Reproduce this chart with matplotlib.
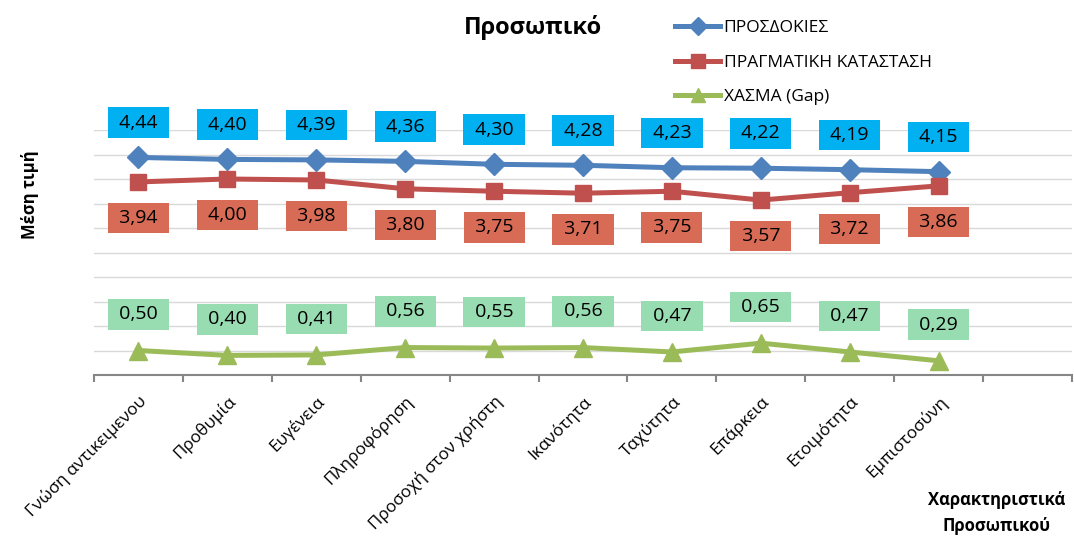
import matplotlib
matplotlib.use('Agg')
import matplotlib.pyplot as plt

plt.rcParams['font.family'] = ['Open Sans', 'DejaVu Sans']

# Κατηγορίες (η τελευταία θέση του άξονα είναι κενή)
katigories = ['Γνώση αντικειμενου', 'Προθυμία', 'Ευγένεια', 'Πληροφόρηση',
              'Προσοχή στον χρήστη', 'Ικανότητα', 'Ταχύτητα', 'Επάρκεια',
              'Ετοιμότητα', 'Εμπιστοσύνη']
prosdokies = [4.44, 4.40, 4.39, 4.36, 4.30, 4.28, 4.23, 4.22, 4.19, 4.15]
pragmatiki = [3.94, 4.00, 3.98, 3.80, 3.75, 3.71, 3.75, 3.57, 3.72, 3.86]
xasma = [0.50, 0.40, 0.41, 0.56, 0.55, 0.56, 0.47, 0.65, 0.47, 0.29]

x = list(range(len(katigories)))

fig = plt.figure(figsize=(10.74, 5.37), dpi=100)
ax = fig.add_axes([94 / 1074, 1 - 375 / 537, 978 / 1074, 245 / 537])

seires = [
    (prosdokies, 'ΠΡΟΣΔΟΚΙΕΣ', '#4F81BD', 'D', 11, '#00B0F0', 25),
    (pragmatiki, 'ΠΡΑΓΜΑΤΙΚΗ ΚΑΤΑΣΤΑΣΗ', '#C0504D', 's', 12, '#D76B55', -26),
    (xasma, 'ΧΑΣΜΑ (Gap)', '#9BBB59', '^', 13, '#98DCB2', 26),
]

for times, onoma, xroma, marker, ms, box, dy in seires:
    ax.plot(x, times, color=xroma, lw=3.6, marker=marker, markersize=ms,
            label=onoma, zorder=3)
    for xi, v in zip(x, times):
        ax.annotate(' ' + f'{v:.2f}'.replace('.', ',') + ' ', (xi, v),
                    xytext=(0, dy), textcoords='offset points',
                    ha='center', va='center', fontsize=14,
                    bbox=dict(boxstyle='square,pad=0.32', fc=box, ec='none'))

ax.set_xlim(-0.5, len(katigories) + 0.5)
ax.set_ylim(0, 5)
ax.set_yticks([i * 0.5 for i in range(1, 11)])
ax.set_yticklabels([])
ax.tick_params(axis='y', length=0)
ax.grid(axis='y', color='#D9D9D9', lw=1)
ax.set_axisbelow(True)

for s in ['top', 'right', 'left']:
    ax.spines[s].set_visible(False)
ax.spines['bottom'].set_color('#868686')
ax.spines['bottom'].set_linewidth(1.5)

ax.set_xticks(x)
ax.set_xticklabels(katigories, rotation=45, ha='right', rotation_mode='anchor',
                   fontsize=12.3)
ax.tick_params(axis='x', length=0, pad=13)
ax.set_xticks([i - 0.5 for i in range(len(katigories) + 2)], minor=True)
ax.tick_params(axis='x', which='minor', length=5, color='#868686', width=1.5)

fig.text(533 / 1074, 1 - 27 / 537, 'Προσωπικό', ha='center', va='center',
         fontsize=17, fontweight='bold')
fig.text(30 / 1074, 1 - 195 / 537, 'Μέση τιμή', ha='center', va='center',
         rotation=90, fontsize=12, fontweight='bold')
fig.text(997 / 1074, 1 - 513 / 537, 'Χαρακτηριστικά\nΠροσωπικού', ha='center',
         va='center', fontsize=12, fontweight='bold', linespacing=1.6)

fig.legend(loc='upper left', bbox_to_anchor=(668 / 1074, 1 - 13 / 537),
           frameon=False, fontsize=12.5, handlelength=2.6, handletextpad=0.2,
           labelspacing=1.06, borderaxespad=0, markerscale=0.8)

fig.savefig('out.png', dpi=100)
